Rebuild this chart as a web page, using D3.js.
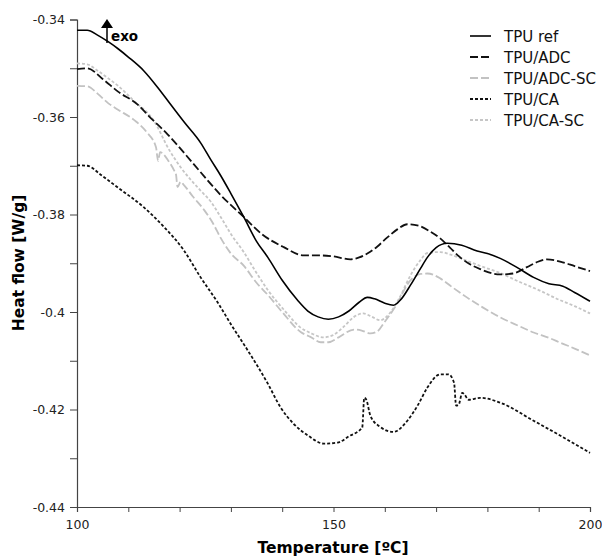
<!DOCTYPE html>
<html>
<head>
<meta charset="utf-8">
<script src="https://cdn.jsdelivr.net/npm/d3@7"></script>
<style>
  body { margin: 0; background: #fff; }
  text { font-family: "DejaVu Sans", sans-serif; }
</style>
</head>
<body>
<div id="chart"></div>
<script>
// series names shown in legend
var seriesNames = ["TPU ref", "TPU/ADC", "TPU/ADC-SC", "TPU/CA", "TPU/CA-SC"];

// [temperature, heat flow]
var tpuRef = [[100, -0.3422], [102, -0.3422], [104, -0.3432], [106, -0.3445], [108, -0.346],
    [110, -0.3477], [113, -0.3505], [116, -0.3543], [118.3, -0.3575], [121, -0.3612],
    [124.1, -0.3653], [126.1, -0.3688], [128, -0.372], [130, -0.3757], [132.5, -0.3805],
    [135, -0.3855], [137.2, -0.3888], [140, -0.3935], [143, -0.3976], [145, -0.3998],
    [147, -0.401], [149, -0.4015], [151, -0.401], [153, -0.3998], [155, -0.398],
    [156.6, -0.397], [158, -0.3973], [160, -0.3982], [161.7, -0.3986], [163, -0.3976],
    [165, -0.3945], [167, -0.391], [168.3, -0.3888], [170, -0.3868], [172.2, -0.3859],
    [175, -0.3863], [178, -0.3875], [180, -0.388], [182.5, -0.389], [186, -0.391],
    [189, -0.3929], [192, -0.3942], [194.7, -0.3947], [197, -0.396], [200, -0.3978]];

var tpuAdc = [[100, -0.3502], [102, -0.35], [105, -0.3522], [108, -0.3548], [111.9, -0.3575],
    [114, -0.3598], [117.7, -0.3636], [120, -0.3663], [124, -0.3712], [128, -0.376],
    [132.5, -0.3805], [136, -0.384], [140.3, -0.3867], [144.2, -0.3884], [147.5, -0.3884],
    [150, -0.3886], [153.3, -0.3892], [155, -0.3888], [156.6, -0.388], [158.5, -0.3866],
    [160.5, -0.3847], [162.5, -0.383], [164.4, -0.382], [166.9, -0.3824], [169, -0.3836],
    [170.8, -0.3849], [172.7, -0.3868], [174.7, -0.3888], [176.6, -0.3902], [178.6, -0.3912],
    [182.5, -0.3923], [185, -0.3921], [187.7, -0.3908], [189.6, -0.3898], [191.6, -0.3892],
    [194.7, -0.3898], [197, -0.3906], [200, -0.3916]];

var tpuAdcSc = [[100, -0.3536], [102, -0.3537], [104, -0.3552], [106, -0.3571], [108, -0.3585],
    [111.1, -0.3606], [113.5, -0.363], [115.4, -0.3662], [115.8, -0.369], [116.2, -0.3672],
    [116.8, -0.3676], [117.7, -0.3688], [118.9, -0.3709], [119.3, -0.3718], [119.6, -0.3744],
    [120.2, -0.3733], [120.8, -0.3739], [122.5, -0.3762], [124.8, -0.3791], [126.5, -0.3818],
    [128, -0.3848], [130, -0.388], [132.5, -0.3905], [135, -0.394], [137.2, -0.3965],
    [140, -0.4], [143.6, -0.4041], [145.5, -0.4051], [147.5, -0.4062], [149, -0.4062],
    [151, -0.4052], [154, -0.4036], [155.5, -0.4038], [157.2, -0.4044], [158.5, -0.404],
    [160, -0.402], [162, -0.399], [165, -0.3935], [167, -0.3922], [168.3, -0.3921],
    [170.8, -0.3931], [173, -0.3948], [176, -0.397], [179, -0.399], [182.5, -0.4011],
    [186, -0.4028], [189, -0.4042], [192, -0.4053], [194.2, -0.4063], [197, -0.4075],
    [200, -0.4089]];

var tpuCa = [[100, -0.3699], [102, -0.37], [104.7, -0.3719], [108, -0.3745], [113, -0.3785],
    [117, -0.3826], [120.8, -0.3873], [124.1, -0.3929], [127.4, -0.398], [130, -0.4025],
    [133.3, -0.4079], [137.2, -0.4147], [139.7, -0.4196], [142.2, -0.4229], [145.1, -0.4254],
    [148.1, -0.427], [150.8, -0.4268], [153, -0.4255], [155.6, -0.4237], [156, -0.4176],
    [156.4, -0.418], [157.2, -0.4213], [159, -0.4235], [161.7, -0.4246], [164.4, -0.4223],
    [166.5, -0.419], [168.3, -0.4155], [170.8, -0.4128], [172.4, -0.4128], [173.5, -0.4145],
    [173.9, -0.4192], [174.4, -0.419], [175.1, -0.4166], [175.6, -0.417], [176.3, -0.418],
    [178.6, -0.4176], [182.5, -0.4186], [189, -0.4223], [193.6, -0.425], [200, -0.4289]];

var tpuCaSc = [[100, -0.349], [102, -0.3492], [104, -0.3505], [106, -0.352], [108, -0.3536],
    [111, -0.3566], [115, -0.3608], [118, -0.3668], [120.2, -0.3703], [124, -0.375],
    [126.1, -0.3774], [128, -0.3805], [130, -0.384], [132.5, -0.3877], [135, -0.392],
    [137.2, -0.3955], [140.3, -0.3995], [143.6, -0.4032], [145.5, -0.4043], [148.1, -0.4052],
    [150, -0.4047], [152, -0.403], [154, -0.401], [155.8, -0.4003], [157.5, -0.401],
    [159.1, -0.4017], [161, -0.4002], [163, -0.3968], [165, -0.3925], [167, -0.3893],
    [168.3, -0.3879], [170.8, -0.3877], [173, -0.3883], [176, -0.3895], [179, -0.3907],
    [182.5, -0.392], [186, -0.3937], [190, -0.3955], [194, -0.3975], [197, -0.3988],
    [200, -0.4003]];

var xTickLabels = [100, 150, 200];
var yTickLabels = [-0.34, -0.36, -0.38, -0.4, -0.42, -0.44];

var seriesData = [tpuRef, tpuAdc, tpuAdcSc, tpuCa, tpuCaSc];
var styles = [
    { color: "#000", dash: null, width: 1.6 },
    { color: "#111", dash: "8,3", width: 1.8 },
    { color: "#c2c2c2", dash: "8,3", width: 1.8 },
    { color: "#111", dash: "3,2", width: 1.8 },
    { color: "#c6c6c6", dash: "3,2", width: 1.8 }
];

var w = 602, h = 557;
var svg = d3.select("#chart").append("svg")
    .attr("width", w)
    .attr("height", h);

var xScale = d3.scaleLinear().domain([100, 200]).range([77, 590]);
var yScale = d3.scaleLinear().domain([-0.44, -0.34]).range([507, 19.5]);

// minor ticks without labels
var xAxis = d3.axisBottom(xScale)
    .tickValues(d3.range(100, 201, 10))
    .tickSize(5)
    .tickFormat(function (d) { return xTickLabels.indexOf(d) > -1 ? d : ""; });

var yAxis = d3.axisLeft(yScale)
    .tickValues(d3.range(0, 11).map(function (i) { return -0.44 + i * 0.01; }))
    .tickSize(7)
    .tickFormat(function (d) {
        var r = Math.round(d * 100) / 100;
        // plain hyphen, as in the original
        return yTickLabels.indexOf(r) > -1 ? String(r) : "";
    });

var gx = svg.append("g")
    .attr("transform", "translate(0," + 507 + ")")
    .call(xAxis);
gx.selectAll("text").attr("font-size", 12.5).attr("fill", "#222").attr("dy", "1.1em")
    .style("font-family", "DejaVu Sans");

var gy = svg.append("g")
    .attr("transform", "translate(77,0)")
    .call(yAxis);
gy.selectAll("text").attr("font-size", 12.5).attr("fill", "#222").attr("x", -12)
    .style("font-family", "DejaVu Sans");

svg.selectAll(".domain").attr("stroke", "#444").attr("stroke-width", 1.2);
svg.selectAll(".tick line").attr("stroke", "#444");

// axis titles
svg.append("text")
    .text("Temperature [ºC]")
    .attr("x", 333)
    .attr("y", 553)
    .attr("text-anchor", "middle")
    .attr("font-weight", "bold")
    .attr("font-size", 15.5);

svg.append("text")
    .text("Heat flow [W/g]")
    .attr("transform", "translate(24,263) rotate(-90)")
    .attr("text-anchor", "middle")
    .attr("font-weight", "bold")
    .attr("font-size", 15.5);

// curves
var line = d3.line()
    .x(function (d) { return xScale(d[0]); })
    .y(function (d) { return yScale(d[1]); })
    .curve(d3.curveMonotoneX);

var order = [4, 2, 3, 1, 0];
order.forEach(function (i) {
    svg.append("path")
        .datum(seriesData[i])
        .attr("d", line)
        .attr("fill", "none")
        .attr("stroke", styles[i].color)
        .attr("stroke-width", styles[i].width)
        .attr("stroke-dasharray", styles[i].dash);
});

// exo arrow
svg.append("line")
    .attr("x1", 107).attr("x2", 107)
    .attr("y1", 43).attr("y2", 26)
    .attr("stroke", "#000").attr("stroke-width", 1.5);
svg.append("path")
    .attr("d", "M101,28 L107,19 L113,28 Z")
    .attr("fill", "#000");
svg.append("text")
    .text("exo")
    .attr("x", 111)
    .attr("y", 41)
    .attr("font-weight", "bold")
    .attr("font-size", 13.5);

// legend
var legend = svg.selectAll(".legend")
    .data(seriesNames)
    .enter().append("g")
    .attr("transform", function (d, i) { return "translate(470," + (36 + i * 21) + ")"; });

legend.append("line")
    .attr("x1", 0).attr("x2", 21)
    .attr("stroke", function (d, i) { return styles[i].color; })
    .attr("stroke-width", function (d, i) { return styles[i].width; })
    .attr("stroke-dasharray", function (d, i) { return styles[i].dash; });

legend.append("text")
    .text(function (d) { return d; })
    .attr("x", 34)
    .attr("y", 5.5)
    .attr("font-size", 15)
    .attr("fill", "#111");
</script>
</body>
</html>
